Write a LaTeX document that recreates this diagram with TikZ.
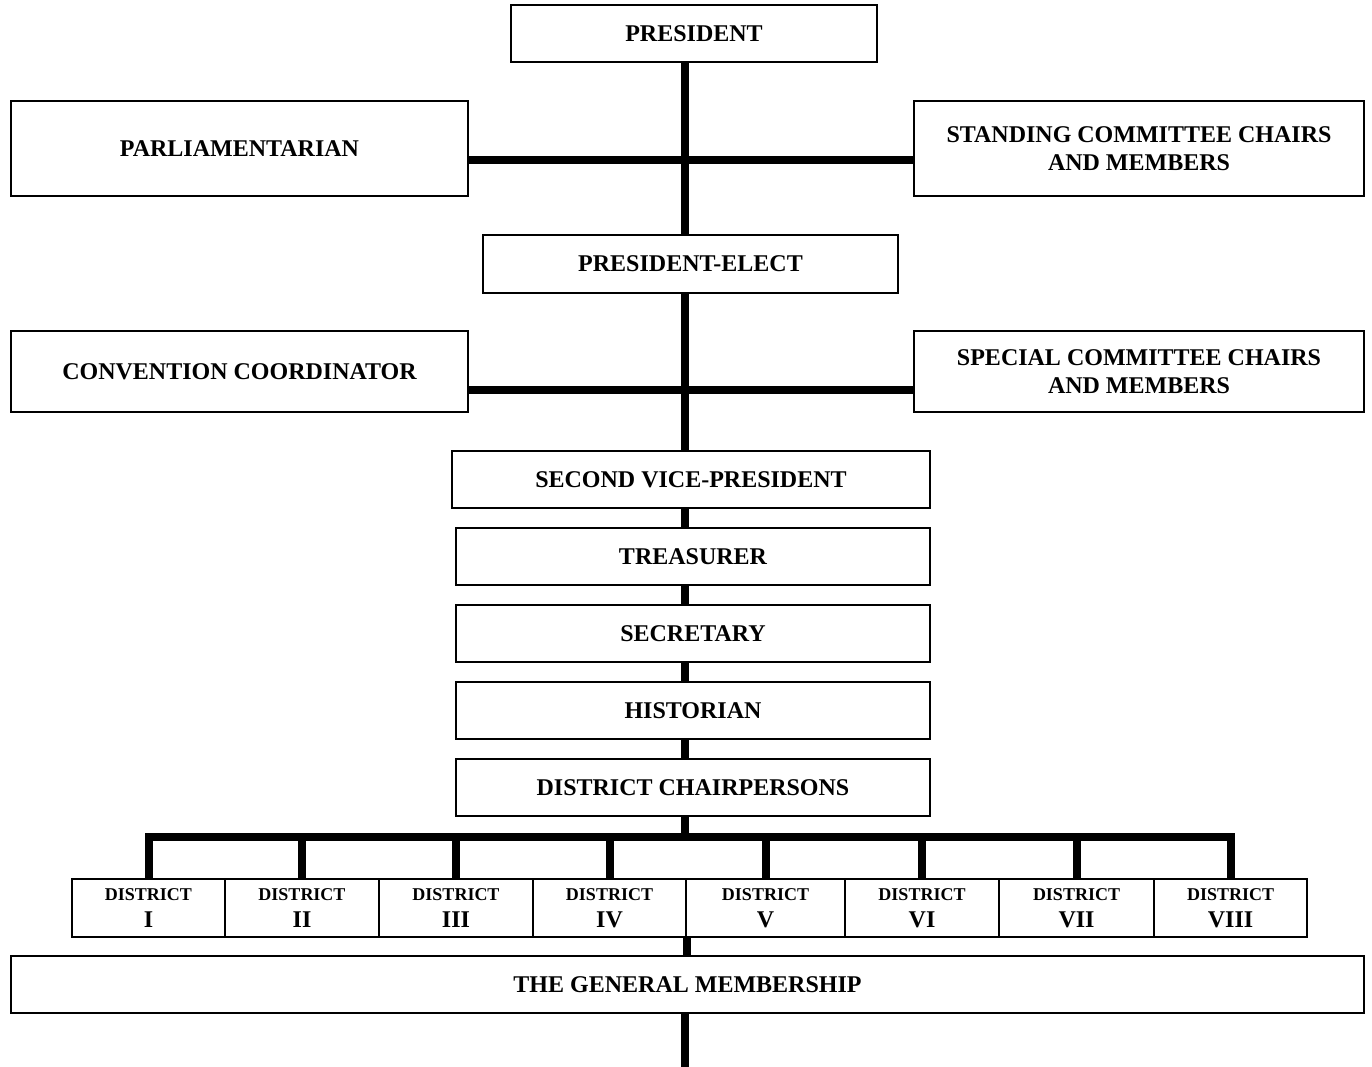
\documentclass[tikz,border=0pt]{standalone}
\usepackage{fontspec}
\setmainfont{Liberation Serif}
\begin{document}
\begin{tikzpicture}[x=1pt,y=-1pt,
  box/.style={draw, line width=2pt, inner sep=0pt, align=center,
    font=\fontsize{24}{28}\selectfont\bfseries, minimum height=57pt},
  dbox/.style={draw, line width=2pt, inner sep=0pt, align=center,
    font=\fontsize{18}{27}\selectfont\bfseries, minimum height=58pt},
  conn/.style={line width=8pt}]
\useasboundingbox (0,0) rectangle (1372,1067);
\coordinate (T) at (685,0);
\coordinate (h1) at (685,160);
\coordinate (h2) at (685,390);
\coordinate (bus) at (685,837);
\coordinate (end) at (685,1067);

\node[box, minimum width=366pt] (pres) at (694,33.5) {PRESIDENT};
\node[box, minimum width=457pt, minimum height=95pt] (parl) at (239.5,148.5) {PARLIAMENTARIAN};
\node[box, minimum width=450pt, minimum height=95pt] (stand) at (1139,148.5) {STANDING COMMITTEE CHAIRS\\AND MEMBERS};
\node[box, minimum width=415pt, minimum height=58pt] (pe) at (690.5,264) {PRESIDENT-ELECT};
\node[box, minimum width=457pt, minimum height=81pt] (conv) at (239.5,371.5) {CONVENTION COORDINATOR};
\node[box, minimum width=450pt, minimum height=81pt] (spec) at (1139,371.5) {SPECIAL COMMITTEE CHAIRS\\AND MEMBERS};
\node[box, minimum width=478pt] (svp) at (691,479.5) {SECOND VICE-PRESIDENT};
\node[box, minimum width=474pt] (treas) at (693,556.5) {TREASURER};
\node[box, minimum width=474pt] (secr) at (693,633.5) {SECRETARY};
\node[box, minimum width=474pt] (hist) at (693,710.5) {HISTORIAN};
\node[box, minimum width=474pt] (dc) at (693,787.5) {DISTRICT CHAIRPERSONS};

\foreach \n/\l/\r/\rom in {1/72/225/I, 2/225/379/II, 3/379/533/III, 4/533/686/IV,
    5/686/845/V, 6/845/999/VI, 7/999/1154/VII, 8/1154/1307/VIII}{
  \pgfmathsetmacro{\cx}{(\l+\r)/2}
  \pgfmathsetmacro{\w}{\r-\l}
  \node[dbox, minimum width=\w pt] (d\n) at (\cx,908)
    {DISTRICT\\{\fontsize{24}{27}\selectfont\bfseries \rom}};
}
\node[box, minimum width=1353pt] (gm) at (687.5,984.5) {THE GENERAL MEMBERSHIP};

% trunk
\draw[conn] (pres.south -| T) -- (pe.north -| T);
\draw[conn] (parl.east |- h1) -- (stand.west |- h1);
\draw[conn] (pe.south -| T) -- (svp.north -| T);
\draw[conn] (conv.east |- h2) -- (spec.west |- h2);
\draw[conn] (svp.south -| T) -- (treas.north -| T);
\draw[conn] (treas.south -| T) -- (secr.north -| T);
\draw[conn] (secr.south -| T) -- (hist.north -| T);
\draw[conn] (hist.south -| T) -- (dc.north -| T);
\draw[conn] (dc.south -| T) -- (bus);
\draw[conn, line cap=rect] (d1.north |- bus) -- (d8.north |- bus);
\foreach \n in {1,...,8}{
  \draw[conn] (d\n.north |- bus) -- (d\n.north);
}
\draw[conn] (d4.south east) -- (gm.north -| d4.south east);
\draw[conn] (gm.south -| T) -- (end);
\end{tikzpicture}
\end{document}
